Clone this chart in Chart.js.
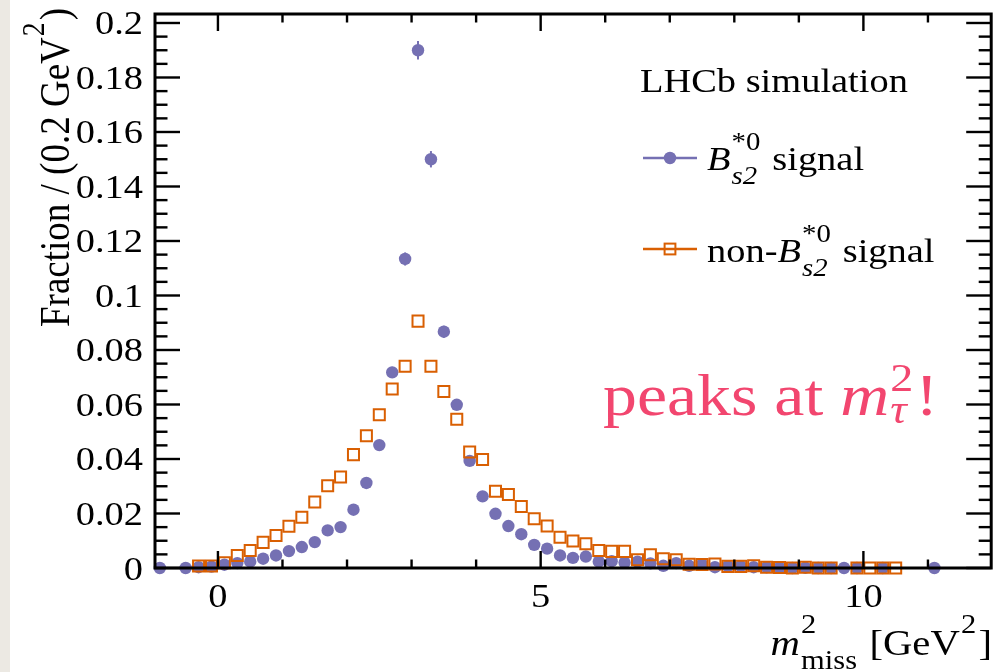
<!DOCTYPE html>
<html>
<head>
<meta charset="utf-8">
<title>m2miss shape</title>
<script src="https://cdn.jsdelivr.net/npm/chart.js@4.4.1/dist/chart.umd.min.js"></script>
<style>
  html, body { margin: 0; padding: 0; }
  body {
    width: 1001px; height: 672px; overflow: hidden;
    background: linear-gradient(to right, #ece9e3 0, #ece9e3 10px, #ffffff 10px);
  }
  #chart { display: block; }
</style>
</head>
<body>
<canvas id="chart" width="1001" height="672"></canvas>
<script>
// bin centres [GeV^2], bins are 0.2 GeV^2 wide
const blueX = [-0.9, -0.5, -0.3, -0.1,
  0.1, 0.3, 0.5, 0.7, 0.9, 1.1, 1.3, 1.5, 1.7, 1.9,
  2.1, 2.3, 2.5, 2.7, 2.9, 3.1, 3.3, 3.5, 3.7, 3.9,
  4.1, 4.3, 4.5, 4.7, 4.9, 5.1, 5.3, 5.5, 5.7, 5.9,
  6.1, 6.3, 6.5, 6.7, 6.9, 7.1, 7.3, 7.5, 7.7, 7.9,
  8.1, 8.3, 8.5, 8.7, 8.9, 9.1, 9.3, 9.5, 9.7, 9.9,
  10.3, 11.1];
const blueY = [0, 0, 0.0003, 0.0005,
  0.0012, 0.0018, 0.0023, 0.0034, 0.0046, 0.0062, 0.0077, 0.0095, 0.0138, 0.0150,
  0.0214, 0.0312, 0.0451, 0.0718, 0.1134, 0.1900, 0.1500, 0.0867, 0.0599, 0.0393,
  0.0263, 0.0199, 0.0154, 0.0124, 0.0085, 0.0071, 0.0046, 0.0037, 0.0042, 0.0023,
  0.0025, 0.0020, 0.0023, 0.0017, 0.0008, 0.0018, 0.0008, 0.0013, 0.0003, 0.0007,
  0.0007, 0.0003, 0.0003, 0.0001, 0, 0.0001, 0, 0, 0, 0,
  0, 0];
const blueErr = [0, 0, 0.0002, 0.0002,
  0.0003, 0.0004, 0.0004, 0.0005, 0.0006, 0.0007, 0.0008, 0.0009, 0.0011, 0.0011,
  0.0013, 0.0016, 0.0018, 0.0020, 0.0024, 0.0034, 0.0030, 0.0022, 0.0019, 0.0016,
  0.0014, 0.0012, 0.0011, 0.0010, 0.0008, 0.0008, 0.0006, 0.0005, 0.0006, 0.0004,
  0.0004, 0.0004, 0.0004, 0.0004, 0.0003, 0.0004, 0.0003, 0.0003, 0.0002, 0.0002,
  0.0002, 0.0002, 0.0002, 0.0001, 0, 0.0001, 0, 0, 0, 0,
  0, 0];

const orangeX = [-0.3, -0.1,
  0.1, 0.3, 0.5, 0.7, 0.9, 1.1, 1.3, 1.5, 1.7, 1.9,
  2.1, 2.3, 2.5, 2.7, 2.9, 3.1, 3.3, 3.5, 3.7, 3.9,
  4.1, 4.3, 4.5, 4.7, 4.9, 5.1, 5.3, 5.5, 5.7, 5.9,
  6.1, 6.3, 6.5, 6.7, 6.9, 7.1, 7.3, 7.5, 7.7, 7.9,
  8.1, 8.3, 8.5, 8.7, 8.9, 9.1, 9.3, 9.5,
  9.9, 10.1, 10.3, 10.5];
const orangeY = [0.0007, 0.0007,
  0.0019, 0.0046, 0.0064, 0.0094, 0.0119, 0.0153, 0.0186, 0.0242, 0.0302, 0.0334,
  0.0416, 0.0485, 0.0562, 0.0657, 0.0740, 0.0906, 0.0740, 0.0648, 0.0546, 0.0426,
  0.0398, 0.0282, 0.0270, 0.0226, 0.0181, 0.0154, 0.0113, 0.0099, 0.0089, 0.0064,
  0.0061, 0.0061, 0.0030, 0.0049, 0.0034, 0.0030, 0.0014, 0.0013, 0.0015, 0.0006,
  0.0006, 0.0008, 0.0003, 0.0002, 0, 0.0003, 0, 0,
  0, 0, 0, 0];

const xTickVals = [0, 5, 10];
const xTickLabels = ['0', '5', '10'];
const yTickVals = [0, 0.02, 0.04, 0.06, 0.08, 0.1, 0.12, 0.14, 0.16, 0.18, 0.2];
const yTickLabels = ['0', '0.02', '0.04', '0.06', '0.08', '0.1', '0.12', '0.14', '0.16', '0.18', '0.2'];

const BLUE = '#7570b3';
const ORANGE = '#d95f02';
const PINK = '#f2466f';
const SERIF = "'Liberation Serif', 'Times New Roman', serif";
const SX = 1.13; // figure sits slightly stretched sideways on the slide

// --- little rich text helper: plain runs plus stacked sup/sub scripts ---
const partFont = (size, it) => `${it ? 'italic ' : ''}${size}px ${SERIF}`;

function layoutRich(ctx, parts, size, o) {
    const ops = [];
    let cx = 0;
    parts.forEach(p => {
        if (typeof p === 'string') p = { t: p };
        if (p.t) {
            ctx.font = partFont(size, p.it);
            ops.push({ t: p.t, x: cx, y: 0, f: ctx.font });
            cx += ctx.measureText(p.t).width;
        }
        const ss = size * o.ss;
        let w = 0;
        if (p.sup) {
            ctx.font = partFont(ss, p.supIt);
            ops.push({ t: p.sup, x: cx + 1, y: -size * o.supY, f: ctx.font });
            w = Math.max(w, ctx.measureText(p.sup).width);
        }
        if (p.sub) {
            ctx.font = partFont(ss, p.subIt);
            ops.push({ t: p.sub, x: cx + 1, y: size * o.subY, f: ctx.font });
            w = Math.max(w, ctx.measureText(p.sub).width);
        }
        if (w) cx += w + 3;
    });
    return { ops, width: cx };
}

function drawRich(ctx, parts, x, y, opts = {}) {
    const o = Object.assign({ size: 34, align: 'left', color: '#000', rot: 0, ss: 0.75, supY: 0.6, subY: 0.4 }, opts);
    const { ops, width } = layoutRich(ctx, parts, o.size, o);
    const off = o.align === 'right' ? -width : o.align === 'center' ? -width / 2 : 0;
    ctx.save();
    ctx.translate(x, y);
    ctx.scale(SX, 1);
    if (o.rot) ctx.rotate(o.rot);
    ctx.fillStyle = o.color;
    ctx.textBaseline = 'alphabetic';
    ctx.textAlign = 'left';
    ops.forEach(op => { ctx.font = op.f; ctx.fillText(op.t, off + op.x, op.y); });
    ctx.restore();
}

// error bars on the B_s2 points
const errorBars = {
    id: 'errorBars',
    beforeDatasetsDraw(chart) {
        const { ctx, scales: { y } } = chart;
        const meta = chart.getDatasetMeta(1);
        ctx.save();
        ctx.strokeStyle = BLUE;
        ctx.lineWidth = 2;
        meta.data.forEach((pt, i) => {
            const e = blueErr[i];
            if (!e) return;
            ctx.beginPath();
            ctx.moveTo(pt.x, y.getPixelForValue(blueY[i] - e));
            ctx.lineTo(pt.x, y.getPixelForValue(blueY[i] + e));
            ctx.stroke();
        });
        ctx.restore();
    }
};

// ROOT style frame with inward ticks on all four sides
const rootFrame = {
    id: 'rootFrame',
    afterDatasetsDraw(chart) {
        const { ctx, chartArea: a, scales: { x, y } } = chart;
        const tick = (x1, y1, x2, y2) => { ctx.beginPath(); ctx.moveTo(x1, y1); ctx.lineTo(x2, y2); ctx.stroke(); };
        ctx.save();
        ctx.strokeStyle = '#000';
        ctx.lineWidth = 2.4;
        for (let v = Math.ceil(x.min); v <= x.max; v++) {
            const px = x.getPixelForValue(v);
            const len = v % 5 === 0 ? 17 : 8.5;
            tick(px, a.bottom, px, a.bottom - len);
            tick(px, a.top, px, a.top + len);
        }
        for (let i = 0; i * 0.005 <= y.max; i++) {
            const py = y.getPixelForValue(i * 0.005);
            const len = i % 4 === 0 ? 25 : 12.5;
            tick(a.left, py, a.left + len, py);
            tick(a.right, py, a.right - len, py);
        }
        ctx.lineWidth = 3;
        ctx.strokeRect(a.left, a.top, a.right - a.left, a.bottom - a.top);
        ctx.restore();
    }
};

// tick labels, titles, legend and the note
const annotations = {
    id: 'annotations',
    afterDraw(chart) {
        const { ctx, scales: { x, y } } = chart;

        yTickVals.forEach((v, i) => {
            drawRich(ctx, [yTickLabels[i]], 143, y.getPixelForValue(v) + 11.5, { size: 34, align: 'right' });
        });
        xTickVals.forEach((v, i) => {
            drawRich(ctx, [xTickLabels[i]], x.getPixelForValue(v), 607, { size: 34, align: 'center' });
        });

        drawRich(ctx, ['Fraction / (0.2 GeV', { sup: '2' }, ')'], 69, 8,
            { size: 37, align: 'right', rot: -Math.PI / 2 });
        drawRich(ctx, [{ t: 'm', it: true, sup: '2', sub: 'miss' }, ' [GeV', { sup: '2' }, ']'], 992, 655,
            { size: 36, align: 'right' });

        drawRich(ctx, ['LHCb simulation'], 640, 92, { size: 34 });

        // legend entry: B_s2 signal
        ctx.save();
        ctx.strokeStyle = BLUE;
        ctx.lineWidth = 2.5;
        ctx.beginPath(); ctx.moveTo(643, 158); ctx.lineTo(697, 158); ctx.stroke();
        ctx.fillStyle = BLUE;
        ctx.beginPath(); ctx.arc(670, 158, 6.2, 0, Math.PI * 2); ctx.fill();
        // legend entry: non-B_s2 signal
        ctx.strokeStyle = ORANGE;
        ctx.beginPath(); ctx.moveTo(643, 249); ctx.lineTo(697, 249); ctx.stroke();
        ctx.lineWidth = 2;
        ctx.strokeRect(664.6, 243.6, 10.8, 10.8);
        ctx.restore();

        drawRich(ctx, [{ t: 'B', it: true, sup: '*0', sub: 's2', subIt: true }, ' signal'], 707, 170, { size: 34 });
        drawRich(ctx, ['non-', { t: 'B', it: true, sup: '*0', sub: 's2', subIt: true }, ' signal'], 707, 262, { size: 34 });

        drawRich(ctx, ['peaks at ', { t: 'm', it: true, sup: '2', sub: 'τ', subIt: true }, '!'], 603, 415,
            { size: 60, color: PINK, ss: 0.68, supY: 0.4, subY: 0.14 });
    }
};

const bluePoints = blueX.map((v, i) => ({ x: v, y: blueY[i] }));
const orangePoints = orangeX.map((v, i) => ({ x: v, y: orangeY[i] }));

const ctx = document.getElementById('chart').getContext('2d');
const chart = new Chart(ctx, {
    type: 'scatter',
    data: {
        datasets: [{
            label: 'non-B*0s2 signal',
            data: orangePoints,
            pointStyle: 'rect',
            pointRadius: 7.8,
            borderWidth: 2,
            borderColor: ORANGE,
            backgroundColor: 'rgba(0,0,0,0)',
            clip: false,
            order: 0
        }, {
            label: 'B*0s2 signal',
            data: bluePoints,
            pointStyle: 'circle',
            pointRadius: 6.2,
            borderWidth: 0,
            borderColor: BLUE,
            backgroundColor: BLUE,
            clip: false,
            order: 1
        }]
    },
    options: {
        responsive: false,
        animation: false,
        layout: { padding: { left: 0, right: 9, top: 14, bottom: 0 } },
        plugins: {
            legend: { display: false },
            tooltip: { enabled: false }
        },
        scales: {
            x: {
                type: 'linear',
                min: -0.975,
                max: 11.98,
                grid: { display: false, drawTicks: false },
                border: { display: false },
                ticks: { display: false },
                afterBuildTicks: s => { s.ticks = xTickVals.map(v => ({ value: v })); },
                afterFit: s => { s.height = 104; }
            },
            y: {
                type: 'linear',
                min: 0,
                max: 0.2033,
                grid: { display: false, drawTicks: false },
                border: { display: false },
                ticks: { display: false },
                afterBuildTicks: s => { s.ticks = yTickVals.map(v => ({ value: v })); },
                afterFit: s => { s.width = 155; }
            }
        }
    },
    plugins: [errorBars, rootFrame, annotations]
});
</script>
</body>
</html>
